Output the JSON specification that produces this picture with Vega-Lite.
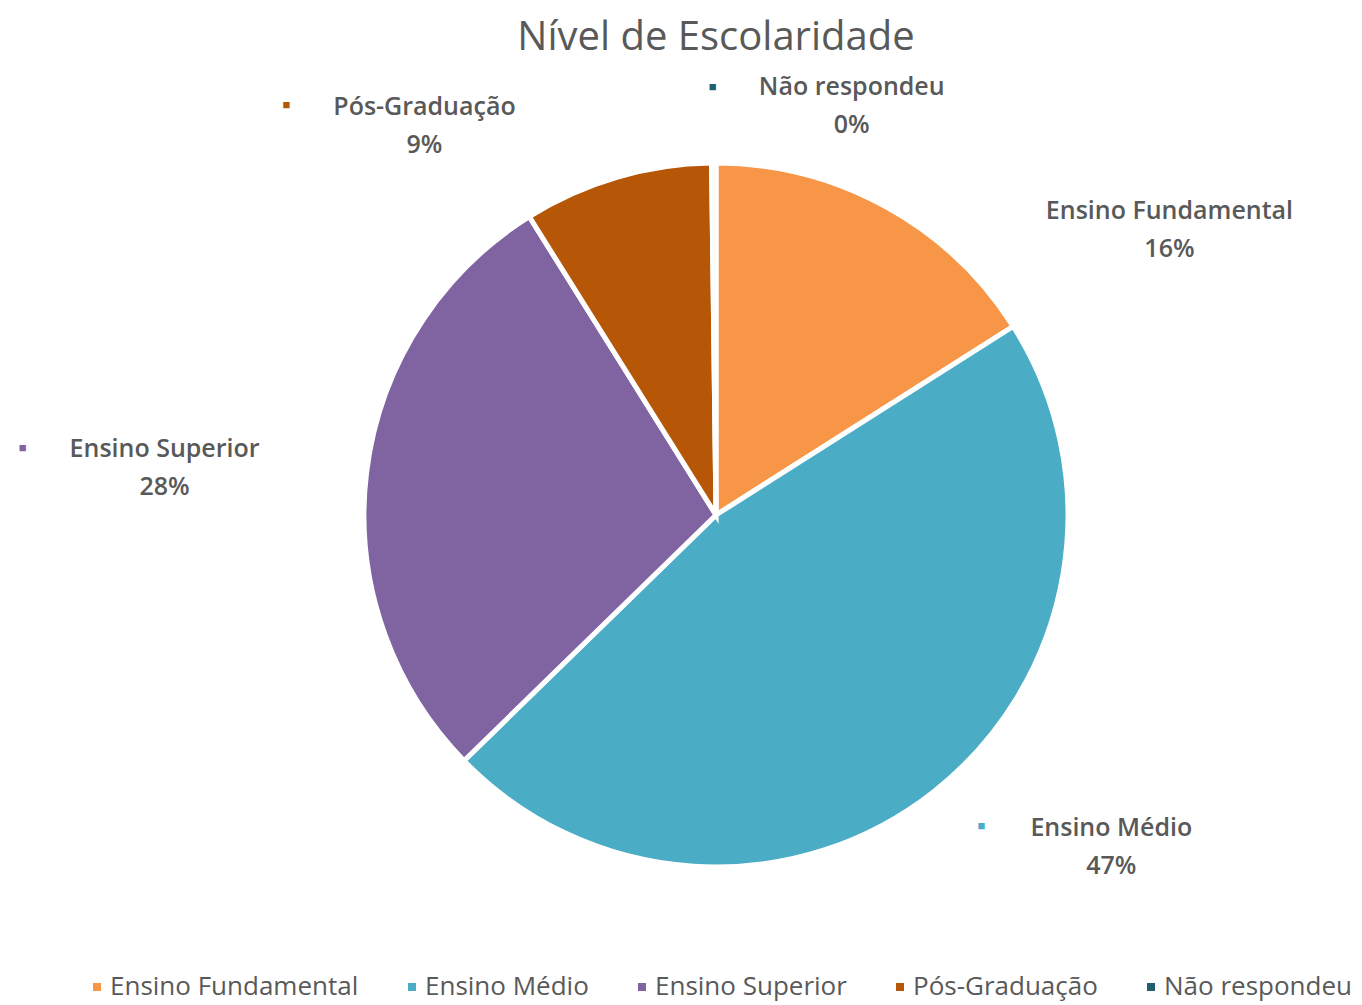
{
  "$schema": "https://vega.github.io/schema/vega-lite/v6.json",
  "width": 1292,
  "height": 890,
  "autosize": {"type": "none"},
  "padding": {"left": 70, "right": 0, "top": 70, "bottom": 45},
  "background": "white",
  "config": {"view": {"stroke": null}, "font": "Open Sans"},
  "title": {
    "text": "Nível de Escolaridade",
    "fontSize": 40,
    "fontWeight": "normal",
    "font": "Open Sans",
    "color": "#595959",
    "anchor": "middle",
    "offset": 12
  },
  "data": {
    "values": [
      {"categoria": "Ensino Fundamental", "valor": 16.0, "ordem": 1, "rotulo": "Ensino Fundamental\n16%"},
      {"categoria": "Ensino Médio", "valor": 46.7, "ordem": 2, "rotulo": "Ensino Médio\n47%"},
      {"categoria": "Ensino Superior", "valor": 28.4, "ordem": 3, "rotulo": "Ensino Superior\n28%"},
      {"categoria": "Pós-Graduação", "valor": 8.7, "ordem": 4, "rotulo": "Pós-Graduação\n9%"},
      {"categoria": "Não respondeu", "valor": 0.2, "ordem": 5, "rotulo": "Não respondeu\n0%"}
    ]
  },
  "encoding": {
    "theta": {"field": "valor", "type": "quantitative", "stack": true},
    "order": {"field": "ordem", "type": "quantitative"}
  },
  "layer": [
    {
      "mark": {"type": "arc", "outerRadius": 352, "stroke": "white", "strokeWidth": 5},
      "encoding": {
        "color": {
          "field": "categoria",
          "type": "nominal",
          "sort": ["Ensino Fundamental", "Ensino Médio", "Ensino Superior", "Pós-Graduação", "Não respondeu"],
          "scale": {
            "domain": ["Ensino Fundamental", "Ensino Médio", "Ensino Superior", "Pós-Graduação", "Não respondeu"],
            "range": ["#F79646", "#4BACC6", "#8064A2", "#B65708", "#215E6E"]
          },
          "legend": {
            "orient": "none",
            "legendX": 14,
            "legendY": 904,
            "direction": "horizontal",
            "title": null,
            "labelFont": "Open Sans",
            "labelFontSize": 26,
            "labelColor": "#595959",
            "symbolType": "square",
            "symbolSize": 64,
            "symbolStrokeWidth": 0,
            "columnPadding": 40,
            "labelOffset": 0,
            "labelLimit": 400
          }
        }
      }
    },
    {
      "mark": {"type": "text", "radius": 360, "dx": 280, "dy": 11, "lineBreak": "\n", "fontSize": 25, "fontWeight": 600, "font": "Open Sans", "color": "#595959", "lineHeight": 38, "align": "center", "baseline": "middle"},
      "encoding": {"text": {"condition": {"test": "datum.categoria === 'Ensino Fundamental'", "field": "rotulo"}, "value": ""}}
    },
    {
      "mark": {"type": "text", "radius": 360, "dx": 172, "dy": 31, "lineBreak": "\n", "fontSize": 25, "fontWeight": 600, "font": "Open Sans", "color": "#595959", "lineHeight": 38, "align": "center", "baseline": "middle"},
      "encoding": {"text": {"condition": {"test": "datum.categoria === 'Ensino Médio'", "field": "rotulo"}, "value": ""}}
    },
    {
      "mark": {"type": "text", "radius": 360, "dx": -194, "dy": -23, "lineBreak": "\n", "fontSize": 25, "fontWeight": 600, "font": "Open Sans", "color": "#595959", "lineHeight": 38, "align": "center", "baseline": "middle"},
      "encoding": {"text": {"condition": {"test": "datum.categoria === 'Ensino Superior'", "field": "rotulo"}, "value": ""}}
    },
    {
      "mark": {"type": "text", "radius": 360, "dx": -190, "dy": -63, "lineBreak": "\n", "fontSize": 25, "fontWeight": 600, "font": "Open Sans", "color": "#595959", "lineHeight": 38, "align": "center", "baseline": "middle"},
      "encoding": {"text": {"condition": {"test": "datum.categoria === 'Pós-Graduação'", "field": "rotulo"}, "value": ""}}
    },
    {
      "mark": {"type": "text", "radius": 360, "dx": 138, "dy": -68, "lineBreak": "\n", "fontSize": 25, "fontWeight": 600, "font": "Open Sans", "color": "#595959", "lineHeight": 38, "align": "center", "baseline": "middle"},
      "encoding": {"text": {"condition": {"test": "datum.categoria === 'Não respondeu'", "field": "rotulo"}, "value": ""}}
    },
    {
      "mark": {"type": "text", "radius": 360, "dx": 42, "dy": 29, "fontSize": 13, "align": "center", "baseline": "middle"},
      "encoding": {
        "text": {"condition": {"test": "datum.categoria === 'Ensino Médio'", "value": "■"}, "value": ""},
        "color": {"field": "categoria", "type": "nominal"}
      }
    },
    {
      "mark": {"type": "text", "radius": 360, "dx": -336, "dy": -24, "fontSize": 13, "align": "center", "baseline": "middle"},
      "encoding": {
        "text": {"condition": {"test": "datum.categoria === 'Ensino Superior'", "value": "■"}, "value": ""},
        "color": {"field": "categoria", "type": "nominal"}
      }
    },
    {
      "mark": {"type": "text", "radius": 360, "dx": -328, "dy": -65, "fontSize": 13, "align": "center", "baseline": "middle"},
      "encoding": {
        "text": {"condition": {"test": "datum.categoria === 'Pós-Graduação'", "value": "■"}, "value": ""},
        "color": {"field": "categoria", "type": "nominal"}
      }
    },
    {
      "mark": {"type": "text", "radius": 360, "dx": -1, "dy": -68, "fontSize": 13, "align": "center", "baseline": "middle"},
      "encoding": {
        "text": {"condition": {"test": "datum.categoria === 'Não respondeu'", "value": "■"}, "value": ""},
        "color": {"field": "categoria", "type": "nominal"}
      }
    }
  ]
}
